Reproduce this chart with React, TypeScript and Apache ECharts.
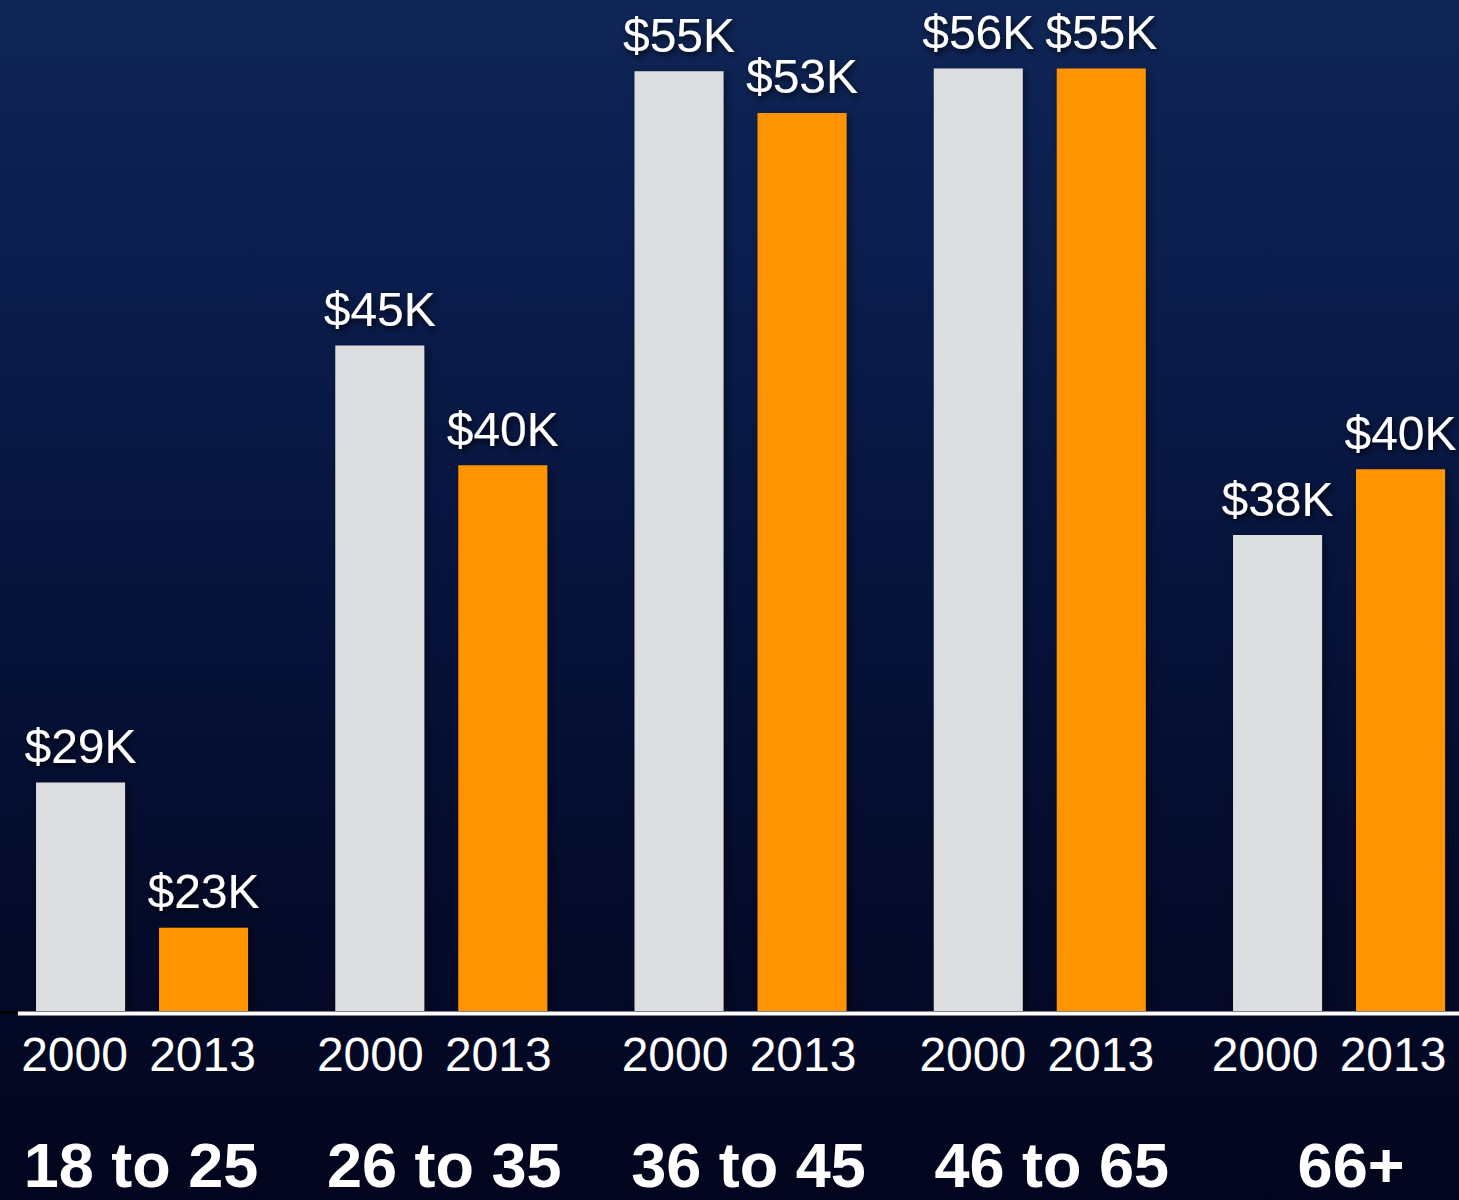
import React, { useEffect, useRef } from "react";
import * as echarts from "echarts";

const categories = ["18 to 25", "26 to 35", "36 to 45", "46 to 65", "66+"];
const years = ["2000", "2013"];
const values2000 = [28.5, 44.75, 54.95, 55.05, 37.7];
const values2013 = [23.1, 40.3, 53.4, 55.05, 40.15];
const labels2000 = ["$29K", "$45K", "$55K", "$56K", "$38K"];
const labels2013 = ["$23K", "$40K", "$53K", "$55K", "$40K"];

const FONT = "'Liberation Sans', Arial, Helvetica, sans-serif";
// small horizontal nudges of the axis texts, as in the original slide
const catShift = [-1, 3, 8, 12, 12];
const yearShift = [-3.5, -7, -1.5, -3, -10];

const pad = (d: number) => (d >= 0 ? [0, 0, 0, 2 * d] : [0, -2 * d, 0, 0]);

export default function App() {
  const ref = useRef<HTMLDivElement>(null);
  useEffect(() => {
    if (!ref.current) return;
    const chart = echarts.init(ref.current, undefined, { renderer: "svg" });
    const labelStyle = {
      show: true,
      position: "top",
      distance: 12,
      color: "#ffffff",
      fontFamily: FONT,
      fontSize: 48,
      textShadowColor: "rgba(0,0,0,0.8)",
      textShadowBlur: 6,
      textShadowOffsetX: 2,
      textShadowOffsetY: 3,
    };
    const barShadow = {
      shadowColor: "rgba(0,0,0,0.45)",
      shadowBlur: 10,
      shadowOffsetX: 3,
      shadowOffsetY: 3,
    };
    const yearStyle = { width: 128, align: "center", fontSize: 48, lineHeight: 66, color: "#fff", fontFamily: FONT };
    const rich: Record<string, any> = {};
    categories.forEach((_, i) => {
      const yd = yearShift[i];
      rich["a" + i] = { ...yearStyle, padding: yd >= 0 ? [0, 0, 0, 2 * yd] : [0, 0, 0, 0] };
      rich["b" + i] = { ...yearStyle, padding: yd < 0 ? [0, -2 * yd, 0, 0] : [0, 0, 0, 0] };
      rich["c" + i] = {
        width: 300,
        align: "center",
        fontSize: 63,
        fontWeight: "bold",
        lineHeight: 156,
        color: "#fff",
        fontFamily: FONT,
        padding: pad(catShift[i]),
      };
    });
    chart.setOption({
      animation: false,
      backgroundColor: "transparent",
      grid: {
        left: -7.6,
        width: 1496.25,
        top: 0,
        bottom: 189,
        containLabel: false,
        outerBoundsMode: "none",
      },
      xAxis: {
        type: "category",
        data: categories,
        axisLine: { show: false },
        axisTick: { show: false },
        splitLine: { show: false },
        axisLabel: {
          interval: 0,
          margin: 10,
          formatter: (v: string, i: number) => `{a${i}|${years[0]}}{b${i}|${years[1]}}\n{c${i}|${v}}`,
          rich,
        },
      },
      yAxis: {
        type: "value",
        min: 20,
        max: 57.6,
        show: false,
        splitLine: { show: false },
      },
      graphic: [
        {
          type: "line",
          shape: { x1: 0, y1: 1012.5, x2: 17, y2: 1012.5 },
          style: { stroke: "rgba(0,0,0,0.8)", lineWidth: 3 },
          z: 10,
        },
        {
          type: "line",
          shape: { x1: 18, y1: 1013.5, x2: 1459, y2: 1013.5 },
          style: { stroke: "#ffffff", lineWidth: 4 },
          z: 10,
        },
      ],
      series: [
        {
          name: years[0],
          type: "bar",
          data: values2000,
          barWidth: 89,
          barGap: "38.2%",
          itemStyle: { color: "#dcdddf", ...barShadow },
          label: { ...labelStyle, formatter: (p: any) => labels2000[p.dataIndex] },
        },
        {
          name: years[1],
          type: "bar",
          data: values2013,
          barWidth: 89,
          barGap: "38.2%",
          itemStyle: { color: "#ff9400", ...barShadow },
          label: { ...labelStyle, formatter: (p: any) => labels2013[p.dataIndex] },
        },
      ],
    });
    return () => chart.dispose();
  }, []);
  return (
    <div
      ref={ref}
      style={{
        position: "fixed",
        left: 0,
        top: 0,
        width: 1459,
        height: 1200,
        background:
          "linear-gradient(to bottom, #0f2657 0%, #0a1c4b 25%, #06133b 50%, #040b2b 75%, #02051d 100%)",
      }}
    />
  );
}
